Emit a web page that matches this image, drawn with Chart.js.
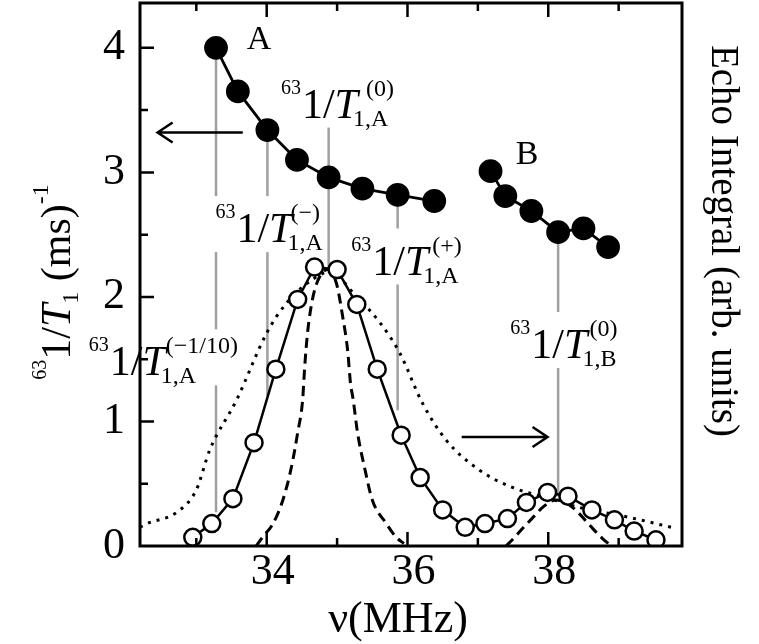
<!DOCTYPE html>
<html>
<head>
<meta charset="utf-8">
<script src="https://cdn.jsdelivr.net/npm/chart.js"></script>
<style>
  html, body { margin: 0; padding: 0; background: #fff; }
</style>
</head>
<body>
<canvas id="nmrChart" width="759" height="644"></canvas>
<script>
// 63Cu relaxation rate at site A and B (left axis)
const freqA = [33.28, 33.59, 34.01, 34.43, 34.88, 35.36, 35.86, 36.38];
const rateA = [4.00, 3.65, 3.34, 3.10, 2.96, 2.87, 2.82, 2.77];
const freqB = [37.18, 37.39, 37.76, 38.14, 38.50, 38.85];
const rateB = [3.01, 2.81, 2.69, 2.52, 2.55, 2.40];

// echo integral spectrum (right axis, arb. units, drawn on the same scale)
const freqEcho = [32.95, 33.22, 33.52, 33.82, 34.13, 34.44, 34.68, 35.00, 35.28, 35.57, 35.91, 36.18,
                  36.50, 36.82, 37.10, 37.42, 37.69, 37.99, 38.28, 38.62, 38.94, 39.22, 39.53];
const echo = [0.07, 0.18, 0.38, 0.83, 1.42, 1.98, 2.24, 2.22, 1.94, 1.42, 0.89, 0.55,
              0.29, 0.15, 0.18, 0.22, 0.35, 0.43, 0.40, 0.29, 0.21, 0.12, 0.05];

// dashed lines (narrow lines A and B)
const dashAx = [33.85, 33.94, 34.09, 34.23, 34.35, 34.44, 34.51, 34.54, 34.58, 34.65, 34.75, 34.87,
                34.99, 35.08, 35.15, 35.19, 35.23, 35.29, 35.39, 35.50, 35.70, 35.84, 35.95];
const dashAy = [0.00, 0.07, 0.18, 0.37, 0.63, 0.91, 1.17, 1.44, 1.71, 1.98, 2.16, 2.22,
                2.11, 1.84, 1.57, 1.31, 1.17, 0.91, 0.63, 0.37, 0.18, 0.07, 0.02];
const dashBx = [37.40, 37.49, 37.65, 37.80, 37.92, 38.11, 38.30, 38.44, 38.60, 38.77, 38.90];
const dashBy = [0.00, 0.05, 0.15, 0.24, 0.31, 0.37, 0.33, 0.26, 0.16, 0.06, 0.00];

// dotted line (broad line)
const dotX = [32.20, 32.30, 32.72, 33.00, 33.19, 33.57, 34.00, 34.28, 34.65, 34.89, 35.28, 35.60,
              35.89, 36.21, 36.55, 37.02, 37.49, 37.97, 38.44, 39.15, 39.82];
const dotY = [0.15, 0.18, 0.27, 0.45, 0.77, 1.17, 1.71, 1.95, 2.14, 2.20, 2.00, 1.80,
              1.55, 1.15, 0.85, 0.61, 0.47, 0.39, 0.31, 0.23, 0.14];

// gray vertical guides: frequency, top, bottom
const guideX = [33.28, 34.01, 34.88, 35.86, 38.14];
const guideTop = [4.00, 3.34, 3.37, 2.82, 2.52];
const guideBottom = [0.27, 1.20, 2.25, 1.09, 0.40];

const xTickLabels = [34, 36, 38];
const yTickLabels = [0, 1, 2, 3, 4];

// label anchors: [x of "1", baseline y, subscript, superscript, superscript shift]
const rateLabels = [
    [34.50, 3.44, '1,A', '(0)', 10],
    [33.57, 2.44, '1,A', '(\u2212)', 0],
    [35.50, 2.18, '1,A', '(+)', 6],
    [31.77, 1.37, '1,A', '(\u22121/10)', 2],
    [37.76, 1.51, '1,B', '(0)', 4]
];
const siteLabels = [['A', 33.89, 4.06], ['B', 37.70, 3.14]];
// arrows: [from x, to x, y]
const arrows = [[33.66, 32.45, 3.32], [36.77, 37.99, 0.875]];

const SERIF = "'Liberation Serif', 'Times New Roman', serif";
const pts = (xs, ys) => xs.map((x, i) => ({ x: x, y: ys[i] }));

const guidePts = [];
guideX.forEach((x, i) => {
    guidePts.push({ x: x, y: guideTop[i] }, { x: x, y: guideBottom[i] }, { x: x, y: null });
});

function drawRateLabel(ctx, x0, base, sub, sup, shift) {
    ctx.textAlign = 'left';
    ctx.textBaseline = 'alphabetic';
    ctx.font = '20px ' + SERIF;
    const w63 = ctx.measureText('63').width;
    ctx.font = '42px ' + SERIF;
    const w1 = ctx.measureText('1/').width;
    ctx.font = 'italic 42px ' + SERIF;
    const wT = ctx.measureText('T').width;
    ctx.font = '24px ' + SERIF;
    const subX = x0 + w1 + wT - 5;
    const supX = x0 + w1 + wT - 2 + shift;
    const right = Math.max(subX + ctx.measureText(sub).width, supX + ctx.measureText(sup).width);
    // white box so the guides stop at the text
    ctx.fillStyle = '#fff';
    ctx.fillRect(x0 - w63 - 3, base - 46, right - x0 + w63 + 6, 56);
    ctx.fillStyle = '#000';
    ctx.font = '20px ' + SERIF;
    ctx.fillText('63', x0 - w63 - 1, base - 24);
    ctx.font = '42px ' + SERIF;
    ctx.fillText('1/', x0, base);
    ctx.font = 'italic 42px ' + SERIF;
    ctx.fillText('T', x0 + w1, base);
    ctx.font = '24px ' + SERIF;
    ctx.fillText(sub, subX, base + 8);
    ctx.fillText(sup, supX, base - 22);
}

const decorPlugin = {
    id: 'decor',
    afterDatasetDraw(chart, args) {
        if (args.index !== 6) return;
        const ctx = chart.ctx, xs = chart.scales.x, ys = chart.scales.y;
        ctx.save();
        rateLabels.forEach(l => drawRateLabel(ctx, xs.getPixelForValue(l[0]), ys.getPixelForValue(l[1]), l[2], l[3], l[4]));
        ctx.font = '34px ' + SERIF;
        ctx.textAlign = 'center';
        ctx.textBaseline = 'middle';
        siteLabels.forEach(l => ctx.fillText(l[0], xs.getPixelForValue(l[1]), ys.getPixelForValue(l[2])));
        ctx.restore();
    },
    afterDraw(chart) {
        const ctx = chart.ctx, a = chart.chartArea, xs = chart.scales.x, ys = chart.scales.y;
        ctx.save();
        ctx.strokeStyle = '#000';
        ctx.lineWidth = 3;
        ctx.strokeRect(a.left, a.top, a.right - a.left, a.bottom - a.top);

        // inward ticks
        ctx.lineWidth = 2.5;
        ctx.beginPath();
        for (let v = 33; v <= 39; v++) {
            const px = xs.getPixelForValue(v), len = v % 2 === 0 ? 14 : 8;
            ctx.moveTo(px, a.bottom); ctx.lineTo(px, a.bottom - len);
            ctx.moveTo(px, a.top); ctx.lineTo(px, a.top + len);
        }
        for (let v = 0.5; v <= 4; v += 0.5) {
            const py = ys.getPixelForValue(v), len = v % 1 === 0 ? 14 : 8;
            ctx.moveTo(a.left, py); ctx.lineTo(a.left + len, py);
        }
        ctx.stroke();

        // arrows
        arrows.forEach(ar => {
            const x1 = xs.getPixelForValue(ar[0]), x2 = xs.getPixelForValue(ar[1]), y = ys.getPixelForValue(ar[2]);
            const d = Math.sign(x2 - x1);
            ctx.beginPath();
            ctx.moveTo(x1, y); ctx.lineTo(x2, y);
            ctx.moveTo(x2 - d * 15, y - 10); ctx.lineTo(x2, y); ctx.lineTo(x2 - d * 15, y + 10);
            ctx.stroke();
        });

        // x title
        ctx.fillStyle = '#000';
        ctx.textBaseline = 'alphabetic';
        ctx.textAlign = 'center';
        ctx.font = '44px ' + SERIF;
        ctx.fillText('\u03bd(MHz)', 398, 632);

        // left title, rotated
        const parts = [
            ['63', '20px ', -24], ['1/', '42px ', 0], ['T', 'italic 42px ', 0],
            ['1', '24px ', 8], [' (ms)', '42px ', 0], ['-1', '24px ', -22]
        ];
        let total = 0;
        parts.forEach(p => { ctx.font = p[1] + SERIF; total += ctx.measureText(p[0]).width; });
        ctx.save();
        ctx.translate(70, 282);
        ctx.rotate(-Math.PI / 2);
        ctx.textAlign = 'left';
        let cx = -total / 2;
        parts.forEach(p => {
            ctx.font = p[1] + SERIF;
            ctx.fillText(p[0], cx, p[2]);
            cx += ctx.measureText(p[0]).width;
        });
        ctx.restore();

        // right title, rotated
        ctx.save();
        ctx.translate(712, 241);
        ctx.rotate(Math.PI / 2);
        ctx.textAlign = 'center';
        ctx.font = '39px ' + SERIF;
        ctx.fillText('Echo Integral (arb. units)', 0, 0);
        ctx.restore();
        ctx.restore();
    }
};

new Chart(document.getElementById('nmrChart'), {
    type: 'scatter',
    data: {
        datasets: [
            { data: pts(freqA, rateA), showLine: true, borderColor: '#000', borderWidth: 2.8,
              pointRadius: 10.5, pointBackgroundColor: '#000', pointBorderColor: '#000', order: 0 },
            { data: pts(freqB, rateB), showLine: true, borderColor: '#000', borderWidth: 2.8,
              pointRadius: 10.5, pointBackgroundColor: '#000', pointBorderColor: '#000', order: 0 },
            { data: pts(freqEcho, echo), showLine: true, borderColor: '#000', borderWidth: 2.5,
              pointRadius: 8.5, pointBorderWidth: 2.5, pointBackgroundColor: '#fff', pointBorderColor: '#000', order: 1 },
            { data: pts(dashAx, dashAy), showLine: true, borderColor: '#000', borderWidth: 3,
              borderDash: [10, 6], pointRadius: 0, cubicInterpolationMode: 'monotone', order: 2 },
            { data: pts(dashBx, dashBy), showLine: true, borderColor: '#000', borderWidth: 3,
              borderDash: [10, 6], pointRadius: 0, cubicInterpolationMode: 'monotone', order: 2 },
            { data: pts(dotX, dotY), showLine: true, borderColor: '#000', borderWidth: 3,
              borderDash: [3, 6], pointRadius: 0, cubicInterpolationMode: 'monotone', order: 3 },
            { data: guidePts, showLine: true, spanGaps: false, borderColor: '#a0a0a0', borderWidth: 2.5,
              pointRadius: 0, order: 10 }
        ]
    },
    options: {
        responsive: false,
        animation: false,
        devicePixelRatio: 1,
        layout: { autoPadding: false, padding: { top: 3, right: 77, left: 0, bottom: 0 } },
        plugins: { legend: { display: false }, tooltip: { enabled: false } },
        scales: {
            x: {
                type: 'linear', min: 32.2, max: 39.9,
                grid: { display: false, drawTicks: false }, border: { display: false },
                ticks: {
                    stepSize: 1, includeBounds: false, autoSkip: false, maxRotation: 0,
                    padding: 0, labelOffset: 6, color: '#000',
                    font: { family: SERIF, size: 44 },
                    callback: v => xTickLabels.includes(v) ? String(v) : ''
                },
                afterFit: s => { s.height = 98; s.paddingLeft = 0; s.paddingRight = 0; }
            },
            y: {
                min: 0, max: 4.36,
                grid: { display: false, drawTicks: false }, border: { display: false },
                ticks: {
                    stepSize: 1, includeBounds: false, padding: 15, color: '#000',
                    font: { family: SERIF, size: 44 },
                    callback: v => yTickLabels.includes(v) ? String(v) : ''
                },
                afterFit: s => { s.width = 140; s.paddingTop = 0; s.paddingBottom = 0; }
            }
        }
    },
    plugins: [decorPlugin]
});
</script>
</body>
</html>
